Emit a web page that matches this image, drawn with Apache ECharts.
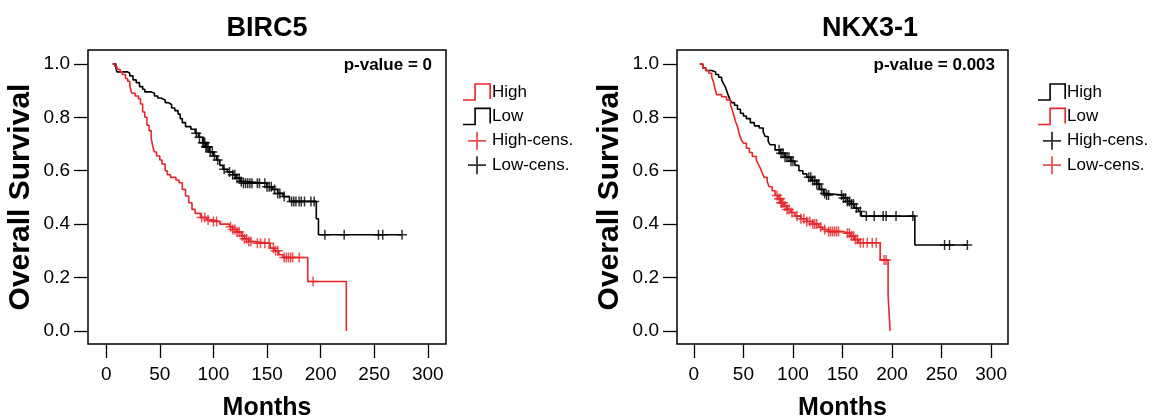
<!DOCTYPE html>
<html><head><meta charset="utf-8">
<script src="https://cdn.jsdelivr.net/npm/echarts@6/dist/echarts.min.js"></script>
<style>html,body{margin:0;padding:0;background:#fff}#c{width:1153px;height:416px}</style>
</head><body><div id="c"></div>
<script>
const xTicks = [0, 50, 100, 150, 200, 250, 300];
const yTicks = [0, 0.2, 0.4, 0.6, 0.8, 1.0];
const titles = ['BIRC5', 'NKX3-1'];
const pValues = ['p-value = 0', 'p-value = 0.003'];
const legendNames = ['High', 'Low', 'High-cens.', 'Low-cens.'];

// BIRC5 - High (red)
const birc5HighT = [6, 8, 10, 13, 15, 18, 20, 22, 23, 24, 27, 30, 32, 34, 36, 38, 40, 42, 43.5, 45, 47, 50, 52, 55, 57, 60, 65, 68, 71, 74, 77, 80, 83, 88, 94, 100, 106, 115, 118, 122, 126, 129, 133, 138, 153, 157, 161, 165, 188, 224];
const birc5HighS = [1.0, 0.99, 0.98, 0.97, 0.96, 0.945, 0.935, 0.92, 0.90, 0.89, 0.88, 0.87, 0.85, 0.82, 0.80, 0.77, 0.75, 0.72, 0.69, 0.67, 0.655, 0.64, 0.625, 0.60, 0.585, 0.575, 0.565, 0.555, 0.53, 0.505, 0.48, 0.455, 0.44, 0.425, 0.415, 0.41, 0.40, 0.39, 0.38, 0.37, 0.355, 0.345, 0.335, 0.328, 0.31, 0.30, 0.285, 0.275, 0.185, 0.0];
const birc5HighCens = [89, 92, 95, 100, 103, 116, 118, 120, 122, 124, 127, 129, 131, 133, 135, 141, 144, 148, 152, 156, 158, 160, 166, 168, 170, 172, 174, 180, 193];
// BIRC5 - Low (black)
const birc5LowT = [6, 9, 10, 20, 22, 25, 28, 31, 34, 36, 42, 45, 48, 51, 55, 58, 61, 64, 67, 69, 71, 74, 79, 83, 86, 90, 93, 96, 100, 103, 106, 109, 113, 118, 121, 125, 128, 150, 155, 160, 165, 171, 196, 198, 276];
const birc5LowS = [1.0, 0.985, 0.97, 0.965, 0.955, 0.94, 0.93, 0.915, 0.905, 0.895, 0.89, 0.88, 0.872, 0.865, 0.855, 0.848, 0.835, 0.825, 0.812, 0.795, 0.78, 0.765, 0.755, 0.74, 0.725, 0.705, 0.69, 0.67, 0.655, 0.64, 0.62, 0.605, 0.595, 0.585, 0.572, 0.56, 0.553, 0.54, 0.53, 0.515, 0.503, 0.485, 0.42, 0.36, 0.36];
const birc5LowCens = [84, 87, 90, 91, 92, 93, 94, 95, 97, 99, 101, 104, 110, 115, 118, 120, 122, 124, 126, 128, 130, 132, 134, 136, 141, 143, 148, 150, 152, 154, 157, 160, 162, 166, 173, 175, 177, 180, 182, 185, 191, 194, 204, 222, 254, 258, 276];

// NKX3-1 - High (black)
const nkxHighT = [6, 9, 12, 18, 22, 25, 28, 30, 32, 34, 36, 38, 41, 44, 47, 50, 53, 57, 61, 66, 70, 72, 75, 77, 82, 87, 92, 98, 102, 106, 110, 114, 119, 124, 127, 131, 133, 151, 155, 159, 162, 166, 169, 223, 276];
const nkxHighS = [1.0, 0.985, 0.975, 0.97, 0.96, 0.95, 0.94, 0.925, 0.912, 0.89, 0.87, 0.855, 0.845, 0.83, 0.815, 0.805, 0.795, 0.78, 0.768, 0.76, 0.745, 0.728, 0.71, 0.697, 0.678, 0.665, 0.65, 0.635, 0.62, 0.60, 0.588, 0.575, 0.563, 0.55, 0.53, 0.515, 0.509, 0.498, 0.485, 0.475, 0.46, 0.447, 0.43, 0.322, 0.322];
const nkxHighCens = [86, 88, 90, 92, 94, 96, 98, 100, 116, 118, 120, 122, 124, 126, 129, 132, 134, 136, 149, 151, 153, 155, 157, 159, 161, 164, 168, 174, 182, 191, 194, 204, 221, 253, 258, 276];
// NKX3-1 - Low (red)
const nkxLowT = [6, 9, 12, 15, 18, 20, 21.5, 23, 28, 33, 37, 39, 40.5, 42, 44, 46, 48, 50, 53, 56, 59, 63, 65, 67, 69, 71, 74, 76, 79, 82, 85, 88, 91, 94, 98, 102, 108, 114, 120, 126, 130, 136, 150, 158, 162, 166, 188, 196, 198];
const nkxLowS = [1.0, 0.985, 0.975, 0.965, 0.952, 0.93, 0.905, 0.885, 0.877, 0.865, 0.846, 0.825, 0.805, 0.785, 0.765, 0.735, 0.715, 0.703, 0.684, 0.668, 0.653, 0.64, 0.625, 0.61, 0.592, 0.575, 0.559, 0.54, 0.525, 0.507, 0.495, 0.48, 0.468, 0.455, 0.443, 0.43, 0.42, 0.41, 0.40, 0.388, 0.38, 0.372, 0.366, 0.355, 0.342, 0.33, 0.266, 0.135, 0.0];
const nkxLowCens = [84, 86, 87, 88, 89, 90, 92, 94, 96, 99, 104, 108, 111, 114, 117, 120, 122, 124, 128, 132, 136, 138, 140, 142, 144, 146, 155, 157, 159, 161, 163, 165, 168, 171, 175, 180, 184, 192, 194];

const RED = '#E5262B', BLACK = '#000000';
const FONT = '"Liberation Sans", Arial, Helvetica, sans-serif';

function curve(T, S) { return T.map((t, i) => [t, S[i]]); }
function survAt(T, S, t) { let s = S[0]; for (let i = 0; i < T.length; i++) { if (T[i] <= t) s = S[i]; } return s; }
function cens(T, S, C) { return C.map(t => [t, survAt(T, S, t)]); }

const crossSym = 'path://M6.8,0 L9.2,0 L9.2,6.8 L16,6.8 L16,9.2 L9.2,9.2 L9.2,16 L6.8,16 L6.8,9.2 L0,9.2 L0,6.8 L6.8,6.8 Z';
const crossIcon = 'path://M7.2,0 L8.8,0 L8.8,7.2 L16,7.2 L16,8.8 L8.8,8.8 L8.8,16 L7.2,16 L7.2,8.8 L0,8.8 L0,7.2 L7.2,7.2 Z';
const stepIcon = 'path://M0,16.2 L11.2,16.2 L11.2,0.2 L27.8,0.2 L27.8,16 L26.2,16 L26.2,1.8 L12.8,1.8 L12.8,17.8 L0,17.8 Z';

const grids = [
  { left: 88, top: 50, width: 358, height: 294 },
  { left: 677, top: 50, width: 331, height: 294 }
];

function xAxis(i) {
  return {
    gridIndex: i, type: 'value', min: -17, max: 317, position: 'bottom',
    axisLine: { show: false, onZero: false }, splitLine: { show: false },
    axisTick: { show: true, inside: false, length: 14, customValues: xTicks, lineStyle: { color: '#000', width: 1.3 } },
    axisLabel: { customValues: xTicks, fontSize: 19, color: '#000', margin: 21, fontFamily: FONT },
    name: 'Months', nameLocation: 'middle', nameGap: 52,
    nameTextStyle: { fontSize: 25, fontWeight: 'bold', color: '#000', fontFamily: FONT }
  };
}
function yAxis(i) {
  return {
    gridIndex: i, type: 'value', min: -0.049, max: 1.052, position: 'left',
    axisLine: { show: false, onZero: false }, splitLine: { show: false },
    axisTick: { show: true, inside: false, length: 14, customValues: yTicks, lineStyle: { color: '#000', width: 1.3 } },
    axisLabel: { customValues: yTicks, fontSize: 19, color: '#000', margin: 18, fontFamily: FONT, formatter: v => v.toFixed(1) },
    name: 'Overall Survival', nameLocation: 'middle', nameRotate: 90, nameGap: 52,
    nameTextStyle: { fontSize: 30, fontWeight: 'bold', color: '#000', fontFamily: FONT }
  };
}

function lineSeries(name, data, color, i) {
  return { type: 'line', name, data, step: 'end', xAxisIndex: i, yAxisIndex: i, showSymbol: false, symbol: 'none',
    lineStyle: { color, width: 1.6 }, itemStyle: { color }, silent: true, z: 2 };
}
function censSeries(name, data, color, i) {
  return { type: 'scatter', name, data, xAxisIndex: i, yAxisIndex: i, symbol: crossSym, symbolSize: 10,
    itemStyle: { color }, silent: true, z: 3 };
}

function legend(i, left, colors) {
  return {
    orient: 'vertical', left, top: 83, padding: 0, itemWidth: 28, itemHeight: 18, itemGap: 6.4,
    selectedMode: false,
    textStyle: { fontSize: 17, color: '#000', fontFamily: FONT, lineHeight: 18, padding: [0, 0, 0, -4] },
    data: legendNames.map((n, k) => ({ name: n, icon: k < 2 ? stepIcon : crossIcon, itemStyle: { color: colors[k] } }))
  };
}

const chart = echarts.init(document.getElementById('c'), null, { renderer: 'canvas' });
chart.setOption({
  backgroundColor: '#fff',
  animation: false,
  title: [
    { text: titles[0], left: 262, top: 10, textAlign: 'center', textStyle: { fontSize: 27, fontWeight: 'bold', color: '#000', fontFamily: FONT } },
    { text: titles[1], left: 865, top: 10, textAlign: 'center', textStyle: { fontSize: 27, fontWeight: 'bold', color: '#000', fontFamily: FONT } }
  ],
  grid: grids.map(g => Object.assign({ show: true, borderColor: '#000', borderWidth: 1.5, backgroundColor: '#fff', containLabel: false, outerBoundsMode: 'none' }, g)),
  xAxis: [xAxis(0), xAxis(1)],
  yAxis: [yAxis(0), yAxis(1)],
  legend: [legend(0, 463, [RED, BLACK, RED, BLACK]), legend(1, 1038, [BLACK, RED, BLACK, RED])],
  graphic: [
    { type: 'text', x: 432, y: 65, style: { text: pValues[0], font: 'bold 17px ' + FONT, fill: '#000', align: 'right', verticalAlign: 'middle' } },
    { type: 'text', x: 995, y: 65, style: { text: pValues[1], font: 'bold 17px ' + FONT, fill: '#000', align: 'right', verticalAlign: 'middle' } }
  ],
  series: [
    lineSeries('Low', curve(birc5LowT, birc5LowS), BLACK, 0),
    lineSeries('High', curve(birc5HighT, birc5HighS), RED, 0),
    censSeries('Low-cens.', cens(birc5LowT, birc5LowS, birc5LowCens), BLACK, 0),
    censSeries('High-cens.', cens(birc5HighT, birc5HighS, birc5HighCens), RED, 0),
    lineSeries('High', curve(nkxHighT, nkxHighS), BLACK, 1),
    lineSeries('Low', curve(nkxLowT, nkxLowS), RED, 1),
    censSeries('High-cens.', cens(nkxHighT, nkxHighS, nkxHighCens), BLACK, 1),
    censSeries('Low-cens.', cens(nkxLowT, nkxLowS, nkxLowCens), RED, 1)
  ]
});
</script>
</body></html>
